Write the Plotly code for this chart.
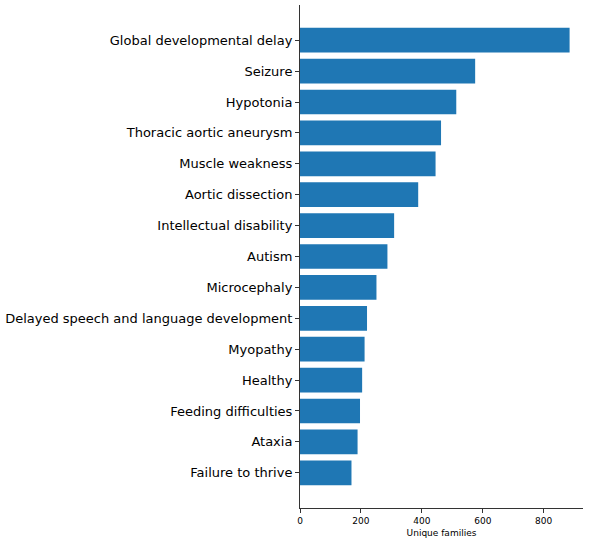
import plotly.graph_objects as go

categories = [
    "Global developmental delay", "Seizure", "Hypotonia", "Thoracic aortic aneurysm",
    "Muscle weakness", "Aortic dissection", "Intellectual disability", "Autism",
    "Microcephaly", "Delayed speech and language development", "Myopathy", "Healthy",
    "Feeding difficulties", "Ataxia", "Failure to thrive",
]
families = [885, 575, 513, 463, 445, 388, 309, 287, 251, 220, 212, 204, 197, 189, 169]

fig = go.Figure(go.Bar(
    x=families,
    y=categories,
    orientation="h",
    width=0.8,
    marker=dict(color="#1f77b4", line=dict(width=0)),
))

fig.update_layout(
    width=589, height=546,
    margin=dict(l=298, r=6, t=5, b=38),
    plot_bgcolor="white", paper_bgcolor="white",
    font=dict(family="DejaVu Sans", color="black"),
    showlegend=False,
)
fig.update_xaxes(
    range=[0, 929], tickvals=[0, 200, 400, 600, 800],
    showgrid=False, zeroline=False,
    showline=True, linecolor="#333", linewidth=1,
    ticks="outside", ticklen=4, tickcolor="#333",
    tickfont=dict(size=9),
    title=dict(text="Unique families", font=dict(size=9), standoff=4),
)
fig.update_yaxes(
    autorange=False, range=[15.14, -1.14],
    categoryorder="array", categoryarray=categories,
    showgrid=False, zeroline=False,
    showline=True, linecolor="#333", linewidth=1,
    ticks="outside", ticklen=4, tickcolor="#333",
    tickfont=dict(size=13),
)

# drop the page's default body margin so the figure sits at the top-left corner
fig.write_html("out.html", config={"displayModeBar": False},
               post_script="document.body.style.margin='0';")
